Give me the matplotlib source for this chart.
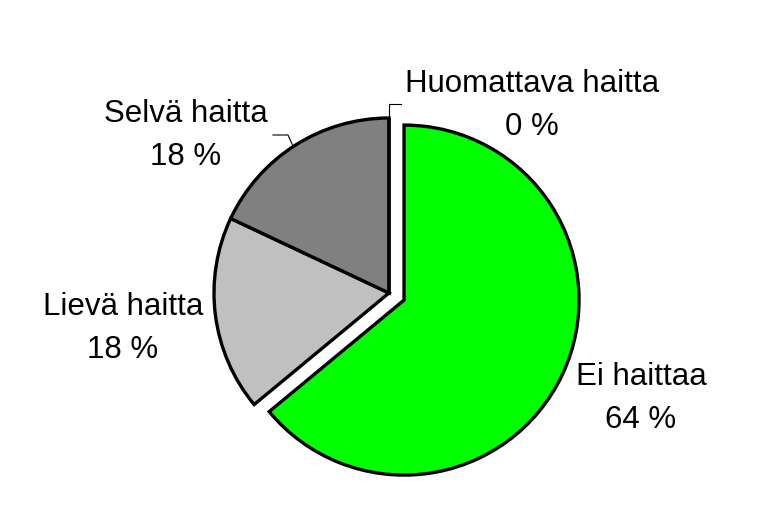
import matplotlib
matplotlib.use("Agg")
import matplotlib.pyplot as plt

labels = ["Ei haittaa", "Lievä haitta", "Selvä haitta", "Huomattava haitta"]
values = [64, 18, 18, 0]
pct_labels = ["64 %", "18 %", "18 %", "0 %"]
colors = ["#00FF00", "#C0C0C0", "#808080", "#FFFFFF"]
explode_frac = [0.095, 0, 0, 0]

W, H = 766, 507
fig = plt.figure(figsize=(W / 100, H / 100), dpi=100)
ax = fig.add_axes([0, 0, 1, 1])

cx, cy, r = 389, H - 293, 175
# pie explode is in data units, so scale by radius
ax.pie(values, colors=colors, explode=[e * r for e in explode_frac],
       startangle=90, counterclock=False,
       center=(cx, cy), radius=r, frame=True,
       wedgeprops=dict(edgecolor="black", linewidth=2.4))
ax.set_xlim(0, W)
ax.set_ylim(0, H)
ax.axis("off")

# label positions (center x, baseline y of first line, in pixels from top)
label_pos = [(641, 385), (123, 315), (186, 122), (532, 92)]
font = dict(family=["Liberation Sans", "DejaVu Sans"], size=22.5, color="black")
for lab, pct, (x, y) in zip(labels, pct_labels, label_pos):
    ax.text(x, H - y, lab, ha="center", va="baseline", **font)
    ax.text(x, H - y - 43, pct, ha="center", va="baseline", **font)

# leader lines
ax.plot([273, 288, 293], [H - 135, H - 135, H - 146], color="black", lw=0.8)
ax.plot([389, 389, 401], [H - 118, H - 104, H - 104], color="black", lw=0.8)

fig.savefig("out.png", dpi=100)
